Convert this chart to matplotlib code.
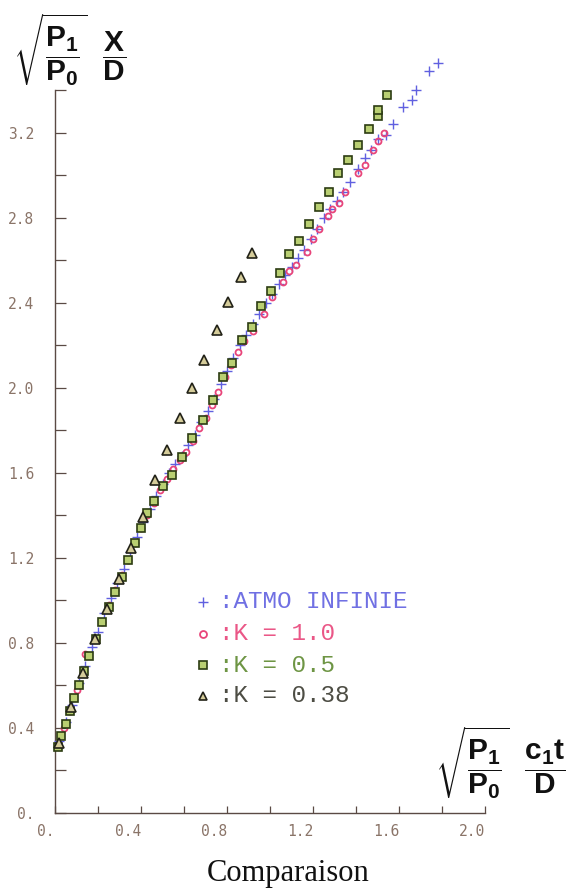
import matplotlib
matplotlib.use("Agg")
import matplotlib.pyplot as plt
from matplotlib.ticker import MultipleLocator, FixedLocator

plt.rcParams['mathtext.fontset'] = 'custom'
plt.rcParams['mathtext.rm'] = 'Liberation Sans:bold'
plt.rcParams['mathtext.it'] = 'Liberation Sans:bold'
plt.rcParams['mathtext.bf'] = 'Liberation Sans:bold'

# ---- data ----
atmo_x = [0.02, 0.05, 0.08, 0.11, 0.14, 0.17, 0.20, 0.23, 0.26, 0.29, 0.32, 0.35, 0.38,
          0.41, 0.44, 0.47, 0.50, 0.53, 0.56, 0.59, 0.62, 0.65, 0.68, 0.71, 0.74, 0.77,
          0.80, 0.83, 0.86, 0.89, 0.92, 0.95, 0.98, 1.01, 1.04, 1.07, 1.10, 1.13, 1.16,
          1.19, 1.22, 1.25, 1.28, 1.31, 1.34, 1.37, 1.41, 1.44, 1.47, 1.50, 1.54, 1.57,
          1.62, 1.66, 1.68, 1.74, 1.78]
atmo_y = [0.34, 0.43, 0.51, 0.61, 0.69, 0.78, 0.85, 0.94, 1.01, 1.08, 1.15, 1.23, 1.30,
          1.37, 1.43, 1.49, 1.55, 1.60, 1.64, 1.68, 1.73, 1.78, 1.84, 1.89, 1.95, 2.02,
          2.08, 2.14, 2.20, 2.25, 2.30, 2.35, 2.40, 2.44, 2.49, 2.53, 2.57, 2.61, 2.65,
          2.70, 2.75, 2.80, 2.84, 2.88, 2.92, 2.97, 3.03, 3.08, 3.12, 3.17, 3.19, 3.24,
          3.32, 3.355, 3.40, 3.49, 3.53]

k10_x = [0.04, 0.07, 0.10, 0.13, 0.14, 0.19, 0.22, 0.25, 0.28, 0.31, 0.34, 0.37, 0.40,
         0.43, 0.46, 0.49, 0.52, 0.55, 0.58, 0.61, 0.64, 0.67, 0.70, 0.73, 0.76, 0.79,
         0.82, 0.85, 0.88, 0.92, 0.97, 1.01, 1.06, 1.09, 1.12, 1.17, 1.20, 1.23, 1.27,
         1.29, 1.32, 1.35, 1.41, 1.44, 1.48, 1.50, 1.53]
k10_y = [0.40, 0.48, 0.58, 0.66, 0.75, 0.82, 0.90, 0.98, 1.05, 1.12, 1.19, 1.27, 1.34,
         1.40, 1.46, 1.52, 1.57, 1.62, 1.66, 1.70, 1.75, 1.81, 1.86, 1.92, 1.98, 2.05,
         2.11, 2.17, 2.22, 2.27, 2.35, 2.43, 2.50, 2.55, 2.58, 2.64, 2.70, 2.75, 2.81,
         2.84, 2.87, 2.92, 3.01, 3.05, 3.12, 3.16, 3.20]

k05_x = [0.015, 0.03, 0.05, 0.07, 0.09, 0.11, 0.135, 0.16, 0.19, 0.22, 0.25, 0.28, 0.31,
         0.34, 0.37, 0.40, 0.43, 0.46, 0.50, 0.544, 0.591, 0.637, 0.688, 0.735, 0.781,
         0.823, 0.870, 0.916, 0.958, 1.005, 1.047, 1.088, 1.135, 1.181, 1.228, 1.274,
         1.316, 1.363, 1.409, 1.460, 1.502, 1.502, 1.544]
k05_y = [0.31, 0.36, 0.42, 0.48, 0.54, 0.60, 0.67, 0.74, 0.82, 0.90, 0.97, 1.04, 1.11,
         1.19, 1.27, 1.34, 1.41, 1.47, 1.54, 1.59, 1.675, 1.765, 1.849, 1.944, 2.052,
         2.118, 2.226, 2.287, 2.386, 2.456, 2.541, 2.631, 2.692, 2.772, 2.852, 2.922,
         3.012, 3.073, 3.144, 3.219, 3.28, 3.308, 3.379]

k038_x = [0.017, 0.073, 0.129, 0.185, 0.241, 0.297, 0.353, 0.409, 0.465, 0.521, 0.581,
          0.637, 0.693, 0.753, 0.805, 0.865, 0.916]
k038_y = [0.33, 0.50, 0.66, 0.82, 0.96, 1.10, 1.247, 1.393, 1.567, 1.708, 1.859,
          2.000, 2.132, 2.273, 2.405, 2.522, 2.635]

x_ticks = [0.0, 0.4, 0.8, 1.2, 1.6, 2.0]
x_ticklabels = ["0.", "0.4", "0.8", "1.2", "1.6", "2.0"]
y_ticks = [0.0, 0.4, 0.8, 1.2, 1.6, 2.0, 2.4, 2.8, 3.2]
y_ticklabels = ["0.", "0.4", "0.8", "1.2", "1.6", "2.0", "2.4", "2.8", "3.2"]

legend_labels = [":ATMO INFINIE", ":K = 1.0", ":K = 0.5", ":K = 0.38"]

# ---- styles ----
c_blue = "#6060e0"
c_pink = "#e8457a"
c_green = "#5e8a30"
c_dark = "#3a3a30"
axis_col = "#5a4a44"
tick_col = "#8a7468"
sq_face = "#b9cf72"
sq_edge = "#2c3c12"
tri_face = "#d5cc9a"
tri_edge = "#222218"

W, H = 573, 893
fig = plt.figure(figsize=(W / 100, H / 100), dpi=100)
fig.patch.set_facecolor("white")
ax = fig.add_axes([55 / W, 80 / H, 430 / W, 723 / H])
ax.set_xlim(0, 2.0)
ax.set_ylim(0, 3.402)

ax.plot(atmo_x, atmo_y, linestyle="none", marker="+", ms=6.5, mew=1.0, color=c_blue,
        clip_on=False, zorder=3)
ax.plot(k10_x, k10_y, linestyle="none", marker="o", ms=4.3, mew=1.3, mfc="none",
        mec=c_pink, clip_on=False, zorder=4)
ax.plot(k05_x, k05_y, linestyle="none", marker="s", ms=5.6, mew=1.2, mfc=sq_face,
        mec=sq_edge, clip_on=False, zorder=5)
ax.plot(k038_x, k038_y, linestyle="none", marker="^", ms=6.5, mew=1.2, mfc=tri_face,
        mec=tri_edge, clip_on=False, zorder=6)

for s in ["top", "right"]:
    ax.spines[s].set_visible(False)
for s in ["left", "bottom"]:
    ax.spines[s].set_color(axis_col)
    ax.spines[s].set_linewidth(1.0)

ax.xaxis.set_major_locator(FixedLocator(x_ticks))
ax.yaxis.set_major_locator(FixedLocator(y_ticks))
ax.xaxis.set_minor_locator(MultipleLocator(0.2))
ax.yaxis.set_minor_locator(MultipleLocator(0.2))
ax.set_xticklabels(x_ticklabels)
ax.set_yticklabels(y_ticklabels)
ax.tick_params(axis="y", which="both", direction="in", length=8, width=0.9, color=axis_col,
               pad=15, labelsize=10.5, labelcolor=tick_col)
ax.tick_params(axis="x", which="both", direction="in", length=5, width=0.9, color=axis_col,
               pad=8, labelsize=10.5, labelcolor=tick_col)
for lab in ax.get_xticklabels() + ax.get_yticklabels():
    lab.set_fontfamily("DejaVu Sans Mono")
for lab in ax.get_xticklabels():
    lab.set_horizontalalignment("right")

# legend (hand-built, as on the plotter output)
leg_markers = [dict(marker="+", ms=7, mew=1.0, color=c_blue),
               dict(marker="o", ms=5, mew=1.3, mfc="none", mec=c_pink, color=c_pink),
               dict(marker="s", ms=5.6, mew=1.2, mfc=sq_face, mec=sq_edge, color=c_green),
               dict(marker="^", ms=6, mew=1.2, mfc=tri_face, mec=tri_edge, color=c_dark)]
leg_colors = [c_blue, c_pink, c_green, c_dark]
leg_y_px = [602, 634, 665, 696]
for lab, mk, col, ypx in zip(legend_labels, leg_markers, leg_colors, leg_y_px):
    yf = 1 - ypx / H
    fig.lines.append(plt.Line2D([203 / W], [yf], linestyle="none", transform=fig.transFigure, **mk))
    fig.text(219 / W, yf, lab, color=col, fontsize=17.5, family="Liberation Mono",
             ha="left", va="center", alpha=0.9)

# axis titles
fig.text(70 / W, 1 - 50 / H, r"$\sqrt{\dfrac{P_1}{P_0}}\ \ \dfrac{X}{D}$", fontsize=21.5,
         ha="center", va="center", color="#111111")
fig.text(500 / W, 1 - 763 / H, r"$\sqrt{\dfrac{P_1}{P_0}}\ \ \dfrac{c_1t}{D}$", fontsize=21.5,
         ha="center", va="center", color="#111111")

fig.text(288 / W, 1 - 873 / H, "Comparaison", fontsize=22, family="Liberation Serif",
         ha="center", va="center", color="#111111")

fig.savefig("out.png", dpi=100, facecolor="white")
